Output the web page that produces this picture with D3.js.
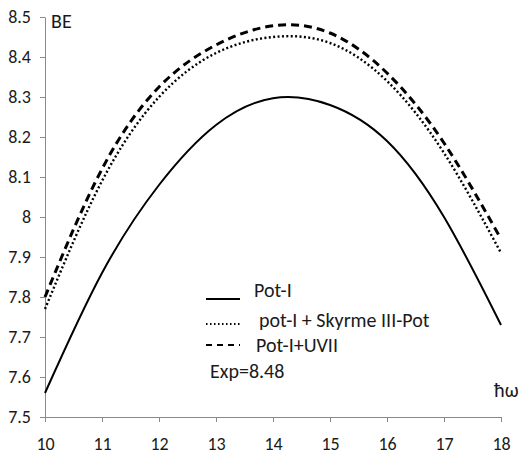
<!DOCTYPE html>
<html>
  <head>
    <title>BE vs hw</title>
    <script src="https://d3js.org/d3.v7.min.js"></script>
    <style>
      body { margin: 0; background: #fff; }
      text { font-family: Carlito, Lato, "Open Sans", sans-serif; fill: #1a1a1a; }
      .axis text { font-size: 18px; }
      .axis path, .axis line { stroke: #8a8a8a; }
      .legend text, .label { font-size: 20px; }
    </style>
  </head>
  <body>
    <svg width="525" height="461"></svg>

    <script>
      const hw = [10, 11, 12, 13, 14, 15, 16, 17, 18];
      const potI = [7.56, 7.86, 8.08, 8.23, 8.297, 8.28, 8.19, 8.0, 7.73];
      const potISkyrme = [7.77, 8.09, 8.30, 8.41, 8.45, 8.435, 8.34, 8.16, 7.91];
      const potIUVII = [7.80, 8.12, 8.325, 8.43, 8.478, 8.46, 8.36, 8.185, 7.945];
      const yTicks = [7.5, 7.6, 7.7, 7.8, 7.9, 8, 8.1, 8.2, 8.3, 8.4, 8.5];
      const legendLabels = ["Pot-I", "pot-I + Skyrme III-Pot", "Pot-I+UVII"];
      const expLabel = "Exp=8.48";

      function main(){
        const svg = d3.select("svg");
        const x = d3.scaleLinear().domain([10, 18]).range([45, 501]);
        const y = d3.scaleLinear().domain([7.5, 8.5]).range([417, 17]);

        svg.append("g").attr("class", "axis")
            .attr("transform", "translate(0,417)")
            .call(d3.axisBottom(x).tickValues(hw).tickSize(5).tickPadding(0).tickSizeOuter(0))
            .call(g => g.selectAll("text").attr("dy", null).attr("y", 33));

        svg.append("g").attr("class", "axis")
            .attr("transform", "translate(45,0)")
            .call(d3.axisLeft(y).tickValues(yTicks).tickSize(5).tickPadding(9).tickSizeOuter(0)
              .tickFormat(d => d3.format("")(Math.round(d * 10) / 10)));

        svg.append("text").attr("class", "label").attr("x", 51).attr("y", 28).text("BE");
        svg.append("text").attr("class", "label").attr("x", 494).attr("y", 397).text("ħω");

        const series = [
          { values: potI, dash: null, width: 2 },
          { values: potISkyrme, dash: "2,2.4", width: 2.4 },
          { values: potIUVII, dash: "8,5", width: 3 },
        ];

        const line = d3.line()
            .x((d, i) => x(hw[i]))
            .y(d => y(d))
            .curve(d3.curveNatural);

        svg.selectAll(".series").data(series).enter().append("path")
            .attr("class", "series")
            .attr("d", d => line(d.values))
            .attr("fill", "none")
            .attr("stroke", "#000")
            .attr("stroke-width", d => d.width)
            .attr("stroke-dasharray", d => d.dash);

        // legend
        const legend = svg.append("g").attr("class", "legend");
        const rows = [
          { lineY: 299, textX: 254, textY: 297 },
          { lineY: 324, textX: 259, textY: 327 },
          { lineY: 345, textX: 256, textY: 352 },
        ];
        legendLabels.forEach((label, i) => {
          legend.append("line")
              .attr("x1", 206).attr("x2", 240)
              .attr("y1", rows[i].lineY).attr("y2", rows[i].lineY)
              .attr("stroke", "#000")
              .attr("stroke-width", 2)
              .attr("stroke-dasharray", i === 1 ? "1.5,2.5" : i === 2 ? "6,5" : null);
          legend.append("text").attr("x", rows[i].textX).attr("y", rows[i].textY).text(label);
        });
        legend.append("text").attr("x", 210).attr("y", 378).text(expLabel);
      }
      main();
    </script>
  </body>
</html>
